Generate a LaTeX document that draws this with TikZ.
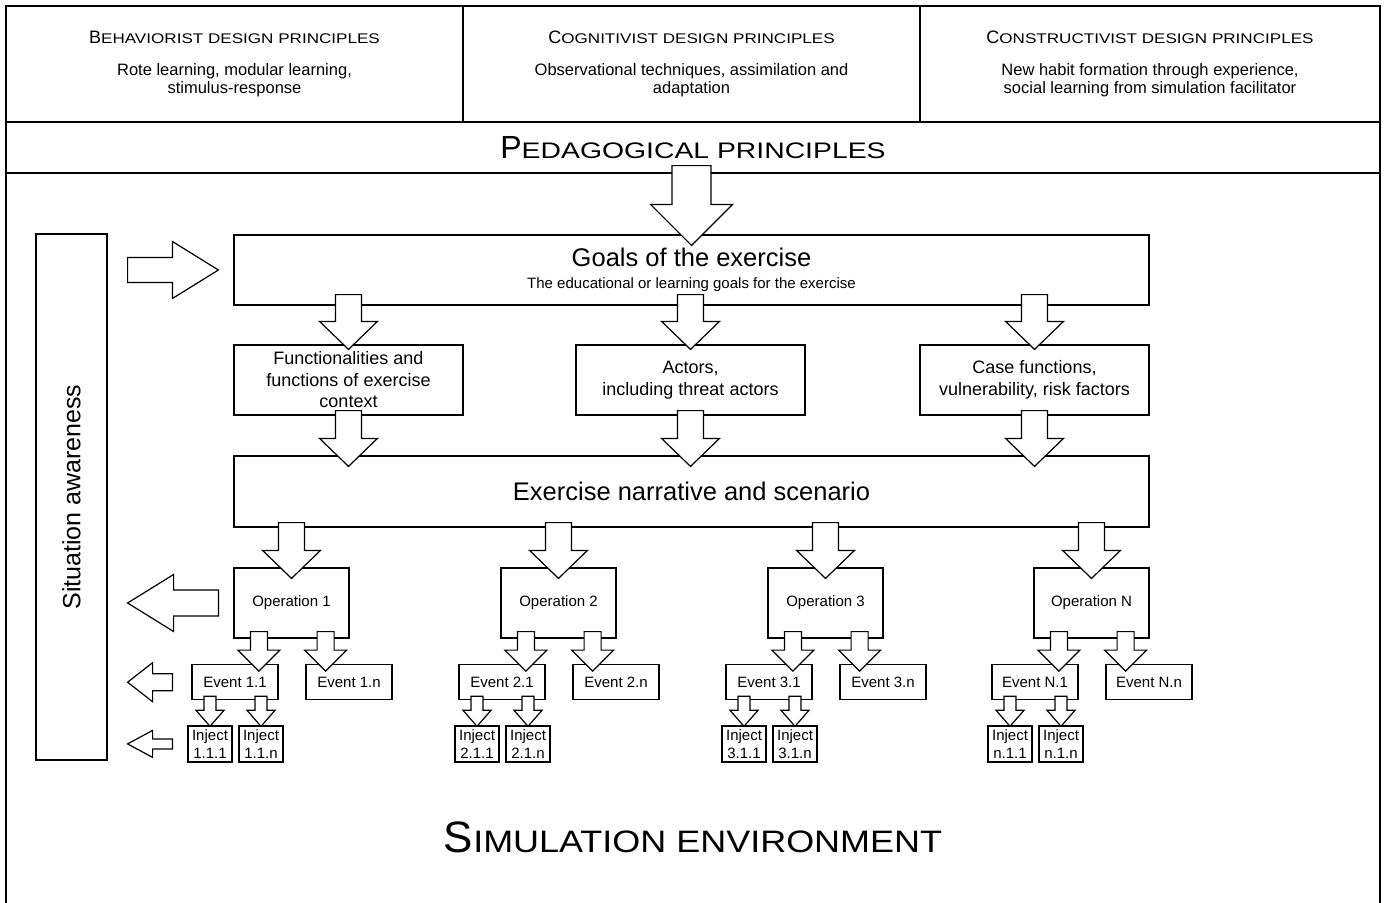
\documentclass[tikz,border=0pt]{standalone}
\usepackage{fontspec}
\setmainfont{Liberation Sans}
\usetikzlibrary{positioning,calc}

% first letter, rest (upper case), big size, small size, stretch
\newcommand{\fakesc}[5]{{\fontsize{#3}{#3}\selectfont #1}{\fontsize{#4}{#4}\selectfont\addfontfeature{FakeStretch=#5}#2}}
% block arrow: tail, tip, shaft half width, head half width, head length
\newcommand{\fatarrow}[5]{%
  \path #1 coordinate (fa-t);
  \path #2 coordinate (fa-p);
  \path ($(fa-p)!#5!(fa-t)$) coordinate (fa-b);
  \draw[blk] ($(fa-t)!#3!90:(fa-p)$) -- ($(fa-b)!#3!90:(fa-p)$) -- ($(fa-b)!#4!90:(fa-p)$)
    -- (fa-p) -- ($(fa-b)!#4!-90:(fa-p)$) -- ($(fa-b)!#3!-90:(fa-p)$) -- ($(fa-t)!#3!-90:(fa-p)$) -- cycle;}

\begin{document}
\begin{tikzpicture}[x=1pt,y=-1pt,line width=1.2pt,
  box/.style={rectangle,draw,inner sep=0pt,align=center},
  hd/.style={box,minimum height=116pt,font=\fontsize{16.5}{18}\selectfont},
  mid/.style={box,minimum width=229pt,minimum height=70pt,font=\fontsize{18}{21.5}\selectfont},
  op/.style={box,minimum width=115pt,minimum height=70pt,font=\fontsize{15}{18}\selectfont},
  ev/.style={box,minimum width=86pt,minimum height=35pt,font=\fontsize{15}{18}\selectfont},
  inj/.style={box,minimum width=44pt,minimum height=36pt,font=\fontsize{15}{18}\selectfont},
  blk/.style={draw,fill=white,line join=miter}
]
\useasboundingbox (0,0) rectangle (1386,902);

\node[box,minimum width=1374pt,minimum height=740pt] (sim) at (693,543) {};
\node (simtitle) at (693,837) {\fakesc{S}{IMULATION ENVIRONMENT}{44}{31}{1.16}};

\node[hd,minimum width=457pt] (beh) at (234.5,64)
  {\fakesc{B}{EHAVIORIST DESIGN PRINCIPLES}{18}{14}{1.22}\\[14pt]
   Rote learning, modular learning,\\ stimulus-response};
\node[hd,minimum width=457pt] (cog) at (691.5,64)
  {\fakesc{C}{OGNITIVIST DESIGN PRINCIPLES}{18}{14}{1.22}\\[14pt]
   Observational techniques, assimilation and\\ adaptation};
\node[hd,minimum width=460pt] (con) at (1150,64)
  {\fakesc{C}{ONSTRUCTIVIST DESIGN PRINCIPLES}{18}{14}{1.22}\\[14pt]
   New habit formation through experience,\\ social learning from simulation facilitator};
\node[box,minimum width=1374pt,minimum height=51pt] (ped) at (693,147.5)
  {\fakesc{P}{EDAGOGICAL PRINCIPLES}{32}{22.5}{1.26}};

\node[box,minimum width=71pt,minimum height=526pt,font=\fontsize{25}{25}\selectfont] (sa) at (71.5,497)
  {\rotatebox{90}{Situation awareness}};

\node[box,minimum width=915pt,minimum height=70pt,font=\fontsize{15}{18}\selectfont] (goals) at (691.5,270)
  {{\fontsize{25.5}{25.5}\selectfont Goals of the exercise}\\[4pt]
   The educational or learning goals for the exercise};
\node[mid] (func) at (348.5,380) {Functionalities and\\functions of exercise\\context};
\node[mid] (actors) at (690.5,380) {Actors,\\including threat actors};
\node[mid] (case) at (1034.5,380) {Case functions,\\vulnerability, risk factors};
\node[box,minimum width=915pt,minimum height=71pt,font=\fontsize{25.5}{30}\selectfont] (narr) at (691.5,491.5)
  {Exercise narrative and scenario};

\fatarrow{($(goals.north |- ped.south)+(0,8pt)$)}{($(goals.north)+(0,-11pt)$)}{19.5pt}{41pt}{41pt}
\fatarrow{($(func.north |- goals.south)+(0,11pt)$)}{($(func.north)+(0,-5pt)$)}{13pt}{29pt}{28pt}
\fatarrow{($(actors.north |- goals.south)+(0,11pt)$)}{($(actors.north)+(0,-5pt)$)}{13pt}{29pt}{28pt}
\fatarrow{($(case.north |- goals.south)+(0,11pt)$)}{($(case.north)+(0,-5pt)$)}{13pt}{29pt}{28pt}
\fatarrow{($(func.south)+(0,5pt)$)}{($(func.south |- narr.north)+(0,-11pt)$)}{13pt}{29pt}{28pt}
\fatarrow{($(actors.south)+(0,5pt)$)}{($(actors.south |- narr.north)+(0,-11pt)$)}{13pt}{29pt}{28pt}
\fatarrow{($(case.south)+(0,5pt)$)}{($(case.south |- narr.north)+(0,-11pt)$)}{13pt}{29pt}{28pt}

% operations, events and injects
\foreach \o/\px/\m in {1/291.5/1,2/558.5/2,3/825.5/3,N/1091.5/n}{
  \node[op] (op\o) at (\px,603) {Operation \o};
  \node[ev,below right=25.5pt and -42pt of op\o.south west] (eva\o) {Event \o.1};
  \node[ev,below right=25.5pt and 72pt of op\o.south west] (evb\o) {Event \o.n};
  \node[inj,below right=25pt and -4pt of eva\o.south west] (inja\o) {Inject\\\m.1.1};
  \node[inj,below right=25pt and 47pt of eva\o.south west] (injb\o) {Inject\\\m.1.n};
  \fatarrow{($(op\o.north |- narr.south)+(0,5pt)$)}{($(op\o.north)+(0,-11pt)$)}{13pt}{29pt}{28pt}
  \fatarrow{($(op\o.south west)+(25.5pt,7pt)$)}{($(op\o.south west |- eva\o.north)+(25.5pt,-7pt)$)}{8.5pt}{21pt}{21pt}
  \fatarrow{($(op\o.south east)+(-24pt,7pt)$)}{($(op\o.south east |- evb\o.north)+(-24pt,-7pt)$)}{8.5pt}{21pt}{21pt}
  \fatarrow{($(inja\o.north |- eva\o.south)+(0,4pt)$)}{($(inja\o.north)+(0,-1pt)$)}{6pt}{14pt}{16pt}
  \fatarrow{($(injb\o.north |- eva\o.south)+(0,4pt)$)}{($(injb\o.north)+(0,-1pt)$)}{6pt}{14pt}{16pt}
}

% situation awareness arrows
\fatarrow{($(sa.east |- goals.west)+(20pt,0)$)}{($(goals.west)+(-15pt,0)$)}{12.5pt}{28.5pt}{46pt}
\fatarrow{($(op1.west)+(-15pt,0)$)}{($(sa.east |- op1.west)+(20pt,0)$)}{13pt}{28.5pt}{46pt}
\fatarrow{($(eva1.west)+(-19pt,0)$)}{($(sa.east |- eva1.west)+(20pt,0)$)}{8.5pt}{19.5pt}{25pt}
\fatarrow{($(inja1.west)+(-15pt,0)$)}{($(sa.east |- inja1.west)+(20pt,0)$)}{5pt}{13.5pt}{25pt}
\end{tikzpicture}
\end{document}
